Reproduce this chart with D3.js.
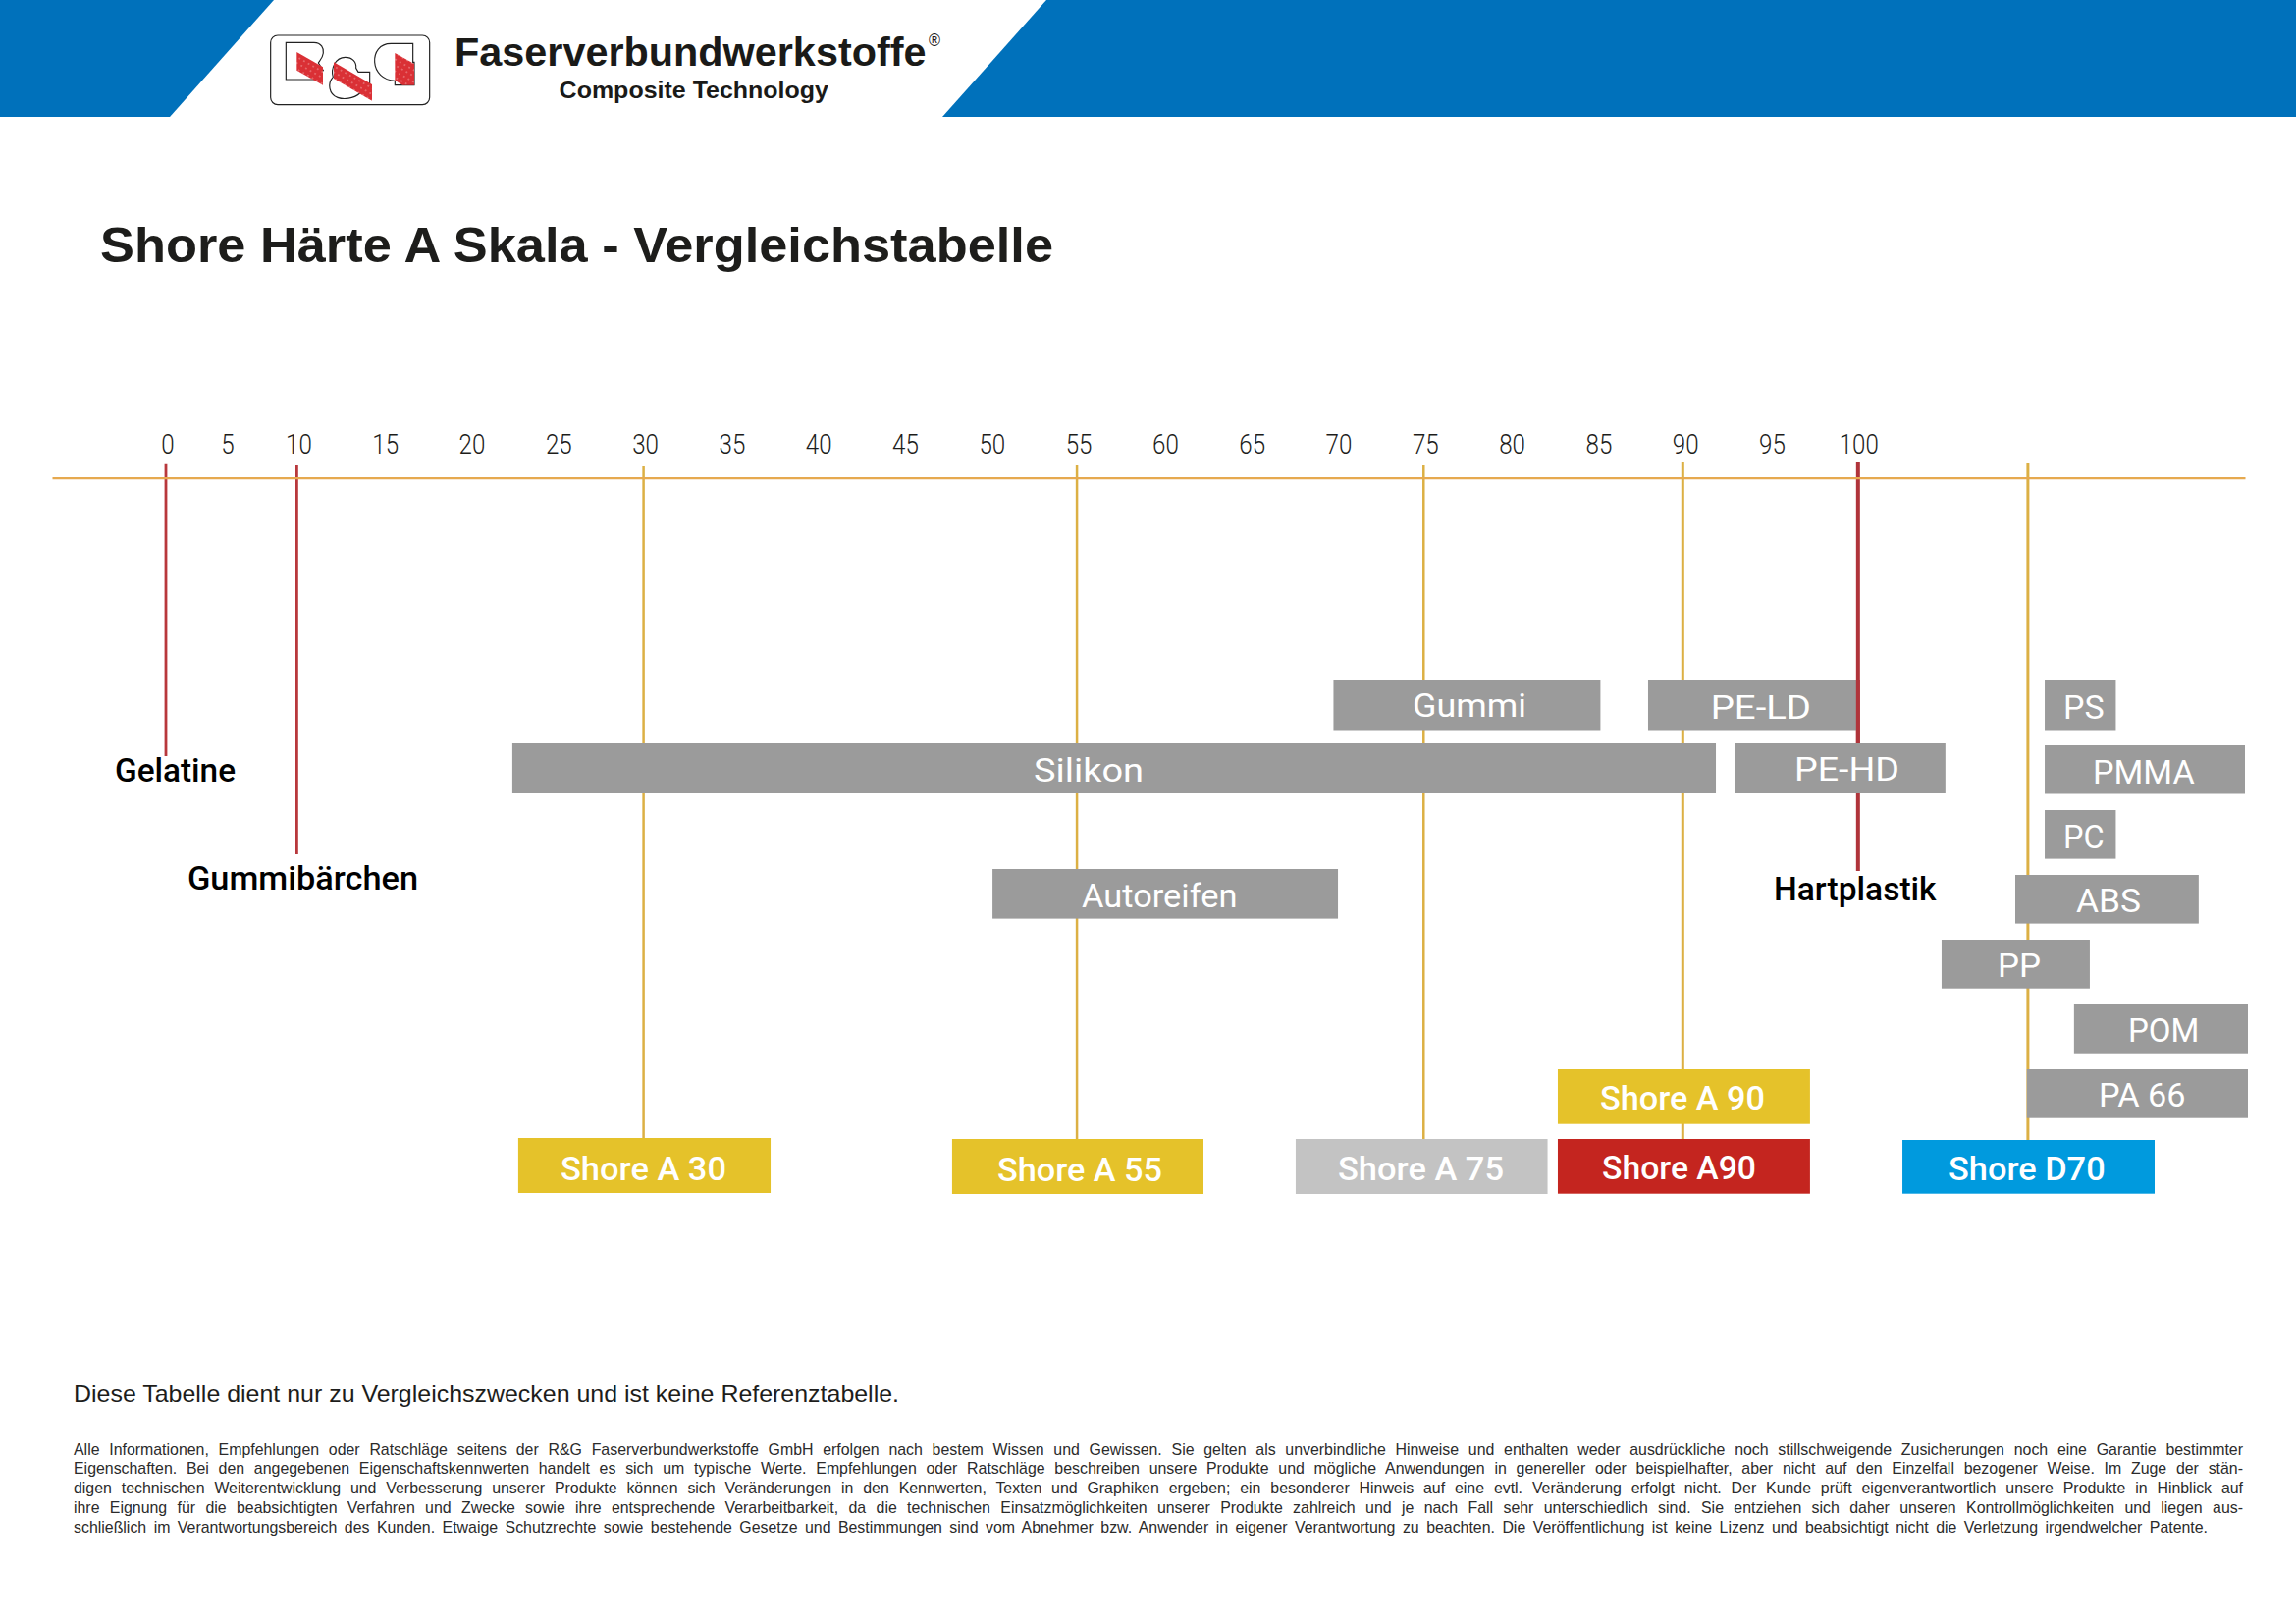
<!DOCTYPE html>
<html lang="de">
<head>
<meta charset="utf-8">
<title>Shore Härte A Skala</title>
<script src="https://cdn.jsdelivr.net/npm/d3@7"></script>
<style>
  html, body { margin: 0; padding: 0; background: #fff; }
  svg { display: block; }
</style>
</head>
<body>
<div id="chart"></div>
<script>
// data
const tickValues = [0, 5, 10, 15, 20, 25, 30, 35, 40, 45, 50, 55, 60, 65, 70, 75, 80, 85, 90, 95, 100];

const barNames = ['Gummi', 'PE-LD', 'PS', 'Silikon', 'PE-HD', 'PMMA', 'PC', 'Autoreifen', 'ABS', 'PP', 'POM', 'PA 66'];
const barFrom = [69.8, 87.95, 110.83, 22.43, 92.95, 110.83, 110.83, 50.13, 109.13, 104.88, 112.52, 109.8];
const barTo = [85.2, 100, 114.93, 91.86, 105.1, 122.38, 114.93, 70.06, 119.71, 113.43, 122.55, 122.55];

const shoreNames = ['Shore A 30', 'Shore A 55', 'Shore A 75', 'Shore A 90', 'Shore A90', 'Shore D70'];
const shoreFrom = [22.77, 47.8, 67.62, 82.74, 82.74, 102.62];
const shoreTo = [37.33, 62.3, 82.15, 97.29, 97.29, 117.17];

const markerNames = ['Gelatine', 'Gummibärchen', 'A30', 'A55', 'A75', 'A90', 'Hartplastik', 'D70'];
const markerValues = [0, 10, 30, 55, 75, 89.95, 100.06, 109.86];

const footerLines = [
  'Alle Informationen, Empfehlungen oder Ratschläge seitens der R&G Faserverbundwerkstoffe GmbH erfolgen nach bestem Wissen und Gewissen. Sie gelten als unverbindliche Hinweise und enthalten weder ausdrückliche noch stillschweigende Zusicherungen noch eine Garantie bestimmter',
  'Eigenschaften. Bei den angegebenen Eigenschaftskennwerten handelt es sich um typische Werte. Empfehlungen oder Ratschläge beschreiben unsere Produkte und mögliche Anwendungen in genereller oder beispielhafter, aber nicht auf den Einzelfall bezogener Weise. Im Zuge der stän-',
  'digen technischen Weiterentwicklung und Verbesserung unserer Produkte können sich Veränderungen in den Kennwerten, Texten und Graphiken ergeben; ein besonderer Hinweis auf eine evtl. Veränderung erfolgt nicht. Der Kunde prüft eigenverantwortlich unsere Produkte in Hinblick auf',
  'ihre Eignung für die beabsichtigten Verfahren und Zwecke sowie ihre entsprechende Verarbeitbarkeit, da die technischen Einsatzmöglichkeiten unserer Produkte zahlreich und je nach Fall sehr unterschiedlich sind. Sie entziehen sich daher unseren Kontrollmöglichkeiten und liegen aus-',
  'schließlich im Verantwortungsbereich des Kunden. Etwaige Schutzrechte sowie bestehende Gesetze und Bestimmungen sind vom Abnehmer bzw. Anwender in eigener Verantwortung zu beachten. Die Veröffentlichung ist keine Lizenz und beabsichtigt nicht die Verletzung irgendwelcher Patente.'
];

// layout
const W = 2339, H = 1654;
const axisY = 486.7;
const BLUE = '#0071bb', GREY = '#9b9b9b', GOLD = '#dcb044', RED = '#b8383c';

const barTop = [693, 693, 693, 757, 757, 759, 825, 885, 891, 957, 1023, 1089];
const barBottom = [743.5, 743.5, 743.5, 808, 808, 808.5, 874.6, 935.6, 940.6, 1006.7, 1072.7, 1138.7];
const barTextLeft = [1439, 1742.7, 2102, 1053, 1828, 2132, 2102, 1102, 2115, 2035, 2168, 2138];
const barTextRight = [1555, 1845, 2143.6, 1165, 1935, 2235.7, 2143.6, 1260.5, 2181, 2079, 2240.5, 2226.6];
const barTextBase = [730, 732, 732, 796, 795, 798, 864, 924.4, 929, 995, 1061, 1127];

const shoreTop = [1159, 1160, 1160, 1089, 1160, 1161];
const shoreBottom = [1215, 1216, 1216, 1144.7, 1215.7, 1215.7];
const shoreColors = ['#e5c22a', '#e5c22a', '#c3c3c3', '#e5c22a', '#c4251f', '#009ade'];
const shoreTextLeft = [571, 1016, 1363, 1630, 1632, 1985];
const shoreTextRight = [740, 1184, 1532, 1798, 1789, 2144.7];
const shoreTextBase = [1202, 1203, 1202, 1130, 1201, 1201.7];

const markerTop = [472.7, 474, 475, 474, 474, 471, 471, 472];
const markerBottom = [770, 870, 1160, 1160, 1160, 1160, 887, 1161];
const markerColors = [RED, RED, GOLD, GOLD, GOLD, GOLD, '#b0343a', GOLD];
const markerWidths = [2.8, 2.8, 2.5, 2.5, 2.5, 3, 4, 3];

// scale is not even at the start: 0-5 and 5-10 are squeezed in the original
const x = d3.scaleLinear()
  .domain([-9.4, 0, 5, 10, 122.38])
  .range([53, 169, 230, 302.4, 2287]);

const svg = d3.select('#chart').append('svg')
  .attr('width', W)
  .attr('height', H)
  .attr('viewBox', `0 0 ${W} ${H}`);

// header
svg.append('path').attr('fill', BLUE).attr('d', 'M0,0H279L173,119H0Z');
svg.append('path').attr('fill', BLUE).attr('d', 'M1066,0H2339V119H960Z');

// logo, drawn in a 3x frame so the shapes are easy to compare with a zoom
const dots = svg.append('defs').append('pattern')
  .attr('id', 'logoDots')
  .attr('width', 16).attr('height', 16)
  .attr('patternUnits', 'userSpaceOnUse')
  .attr('patternTransform', 'rotate(30)');
dots.append('rect').attr('width', 16).attr('height', 16).attr('fill', '#da3035');
dots.append('circle').attr('cx', 8).attr('cy', 8).attr('r', 1.8).attr('fill', '#f6c9c9');

const logo = svg.append('g').attr('transform', 'translate(270,30) scale(0.33333)');
logo.append('rect')
  .attr('x', 17).attr('y', 18).attr('width', 486).attr('height', 212).attr('rx', 22)
  .attr('fill', '#fff').attr('stroke', '#222').attr('stroke-width', 3.5);
const logoOutlines = [
  'M64,40H150C172,40 180,58 178,72C176,88 168,95 163,102L178,125L150,153H64Z',
  'M245,85C268,85 280,100 278,118L285,130H320V165L290,195C270,212 240,215 222,208C195,198 190,165 208,145C200,120 215,85 245,85Z',
  'M452,43H385C350,43 333,70 335,100C337,130 360,155 397,157V170H456V100H452Z'
];
logo.selectAll('path.outline').data(logoOutlines).enter().append('path')
  .attr('class', 'outline')
  .attr('d', d => d)
  .attr('fill', '#fff').attr('stroke', '#222').attr('stroke-width', 3.5);
const logoStripes = [
  'M97,69L177,115V170L97,125Z',
  'M210,100L327,168V218L210,150Z',
  'M397,72L456,105V170H420L397,155Z'
];
logo.selectAll('path.stripe').data(logoStripes).enter().append('path')
  .attr('class', 'stripe')
  .attr('d', d => d)
  .attr('fill', 'url(#logoDots)');

function fitText(sel, left, right, base, size, weight, family, color, txt) {
  return sel.append('text')
    .attr('x', left)
    .attr('y', base)
    .attr('textLength', right - left)
    .attr('lengthAdjust', 'spacingAndGlyphs')
    .attr('font-family', family)
    .attr('font-size', size)
    .attr('font-weight', weight)
    .attr('fill', color)
    .text(txt);
}

const SANS = '"Liberation Sans", Arial, sans-serif';
const DIN = 'Roboto, "Noto Sans", sans-serif';

fitText(svg, 463, 943.5, 66.5, 40, 700, SANS, '#1a1a18', 'Faserverbundwerkstoffe');
fitText(svg, 946, 958, 47, 18, 400, SANS, '#1a1a18', '®');
fitText(svg, 569.6, 844, 100, 24, 700, SANS, '#1a1a18', 'Composite Technology');

// title
fitText(svg, 102, 1073, 266.5, 50, 700, SANS, '#1d1d1b', 'Shore Härte A Skala - Vergleichstabelle');

// marker lines go behind the bars
svg.append('g').selectAll('line')
  .data(markerNames)
  .enter()
  .append('line')
  .attr('x1', (d, i) => x(markerValues[i]))
  .attr('x2', (d, i) => x(markerValues[i]))
  .attr('y1', (d, i) => markerTop[i])
  .attr('y2', (d, i) => markerBottom[i])
  .attr('stroke', (d, i) => markerColors[i])
  .attr('stroke-width', (d, i) => markerWidths[i]);

// axis
const axis = svg.append('g')
  .attr('transform', `translate(0,${axisY})`)
  .call(d3.axisTop(x).tickValues(tickValues).tickSize(0).tickSizeOuter(0).tickPadding(24.6).tickFormat(d3.format('d')));
axis.select('.domain').attr('stroke', '#e6a94f').attr('stroke-width', 2.2);
axis.selectAll('.tick line').remove();
axis.selectAll('.tick text')
  .attr('dx', 1.5)
  .attr('font-family', DIN)
  .attr('font-weight', 300)
  .attr('font-size', 28)
  .attr('fill', '#1d1d1b')
  .attr('lengthAdjust', 'spacingAndGlyphs')
  .attr('textLength', d => String(d).length === 3 ? 40 : String(d).length * 13.4);

// material bars
svg.append('g').selectAll('rect')
  .data(barNames)
  .enter()
  .append('rect')
  .attr('x', (d, i) => x(barFrom[i]))
  .attr('width', (d, i) => x(barTo[i]) - x(barFrom[i]))
  .attr('y', (d, i) => barTop[i])
  .attr('height', (d, i) => barBottom[i] - barTop[i])
  .attr('fill', GREY);

// shore boxes
svg.append('g').selectAll('rect')
  .data(shoreNames)
  .enter()
  .append('rect')
  .attr('x', (d, i) => x(shoreFrom[i]))
  .attr('width', (d, i) => x(shoreTo[i]) - x(shoreFrom[i]))
  .attr('y', (d, i) => shoreTop[i])
  .attr('height', (d, i) => shoreBottom[i] - shoreTop[i])
  .attr('fill', (d, i) => shoreColors[i]);

// the red 100 line stays visible over the right edge of PE-LD
svg.append('line')
  .attr('x1', x(markerValues[6])).attr('x2', x(markerValues[6]))
  .attr('y1', 693).attr('y2', 757)
  .attr('stroke', markerColors[6]).attr('stroke-width', markerWidths[6]);

barNames.forEach((d, i) => {
  fitText(svg, barTextLeft[i], barTextRight[i], barTextBase[i], 33, 400, DIN, '#fff', d);
});
shoreNames.forEach((d, i) => {
  fitText(svg, shoreTextLeft[i], shoreTextRight[i], shoreTextBase[i], 33, 500, DIN, '#fff', d);
});

// labels of the red lines
fitText(svg, 117, 240, 796, 34, 500, DIN, '#000', 'Gelatine');
fitText(svg, 191, 426, 906, 34, 500, DIN, '#000', 'Gummibärchen');
fitText(svg, 1807, 1972.6, 917, 34, 500, DIN, '#000', 'Hartplastik');

// notes
fitText(svg, 75, 916, 1428, 24, 400, SANS, '#1d1d1b', 'Diese Tabelle dient nur zu Vergleichszwecken und ist keine Referenztabelle.');

const footY = d3.scaleLinear().domain([0, 4]).range([1481.5, 1561]);
const footRight = [2285, 2285, 2285, 2285, 2249];
svg.append('g').selectAll('text')
  .data(footerLines)
  .enter()
  .append('text')
  .attr('x', 75)
  .attr('y', (d, i) => footY(i))
  .attr('font-family', SANS)
  .attr('font-size', 15.9)
  .attr('fill', '#2b2b2b')
  .text(d => d)
  .each(function(d, i) {
    // justify by widening the word gaps, like the print original
    const gaps = d.split(' ').length - 1;
    const extra = (footRight[i] - 75 - this.getComputedTextLength()) / gaps;
    d3.select(this).attr('word-spacing', extra);
  });
</script>
</body>
</html>
